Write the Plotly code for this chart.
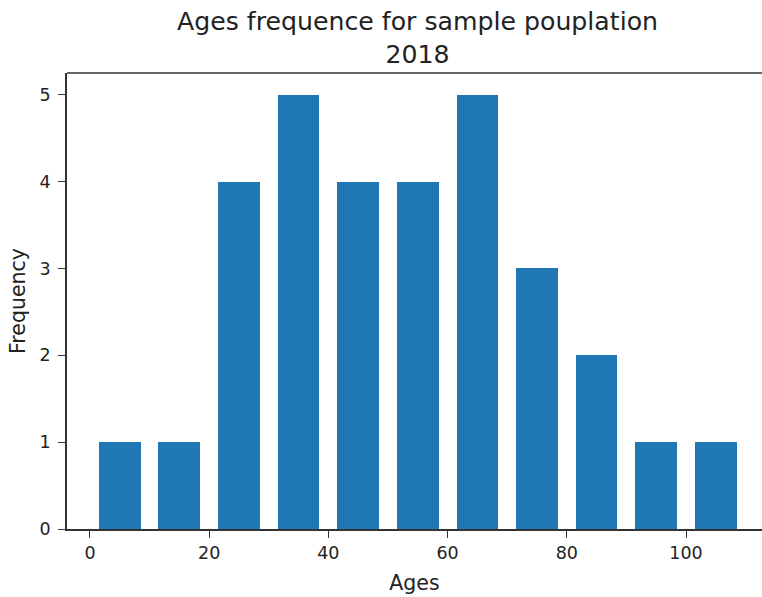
import plotly.graph_objects as go

# Histogram bins (left edges, width 10) and frequencies
bin_left = [0, 10, 20, 30, 40, 50, 60, 70, 80, 90, 100]
bin_width = 10
frequency = [1, 1, 4, 5, 4, 4, 5, 3, 2, 1, 1]
x_ticks = [0, 20, 40, 60, 80, 100]
y_ticks = [0, 1, 2, 3, 4, 5]

rwidth = 0.7
centers = [b + bin_width / 2 for b in bin_left]

FONT = "DejaVu Sans"
fig = go.Figure(
    go.Bar(
        x=centers,
        y=frequency,
        width=bin_width * rwidth,
        marker=dict(color="#1f77b4", line=dict(width=0)),
    )
)

fig.update_layout(
    width=762,
    height=597,
    margin=dict(l=67, r=0, t=73, b=68, autoexpand=False),
    paper_bgcolor="white",
    plot_bgcolor="white",
    font=dict(family=FONT, color="#222222"),
    showlegend=False,
    bargap=0,
    annotations=[
        dict(
            text="Ages frequence for sample pouplation<br>2018",
            font=dict(family=FONT, size=25.2, color="#222222"),
            xref="paper",
            x=0.5047,
            xanchor="center",
            yref="paper",
            y=1 + 68 / 456,
            yanchor="top",
            showarrow=False,
            align="center",
        )
    ],
    shapes=[
        dict(
            type="line",
            xref="paper",
            yref="paper",
            x0=0,
            x1=1.02,
            y0=1,
            y1=1,
            line=dict(color="#333333", width=1.5),
        )
    ],
)

fig.update_xaxes(
    range=[-3.85, 112.75],
    tickvals=x_ticks,
    ticks="outside",
    ticklen=7,
    tickcolor="#333333",
    tickfont=dict(size=17.5),
    showgrid=False,
    zeroline=False,
    showline=True,
    linecolor="#333333",
    linewidth=1.5,
    mirror=False,
    automargin=False,
    title=dict(text="Ages", font=dict(size=20.5), standoff=14),
)
fig.update_yaxes(
    range=[0, 5.25],
    tickvals=y_ticks,
    ticks="outside",
    ticklen=7,
    tickcolor="#333333",
    tickfont=dict(size=17.5),
    ticklabelstandoff=4,
    showgrid=False,
    zeroline=False,
    showline=True,
    linecolor="#333333",
    linewidth=1.5,
    automargin=False,
    title=dict(text="Frequency", font=dict(size=20.5), standoff=8),
)

fig.write_html(
    "out.html",
    config={"displayModeBar": False},
    post_script="document.body.style.margin='0';document.body.style.overflow='hidden';",
)
